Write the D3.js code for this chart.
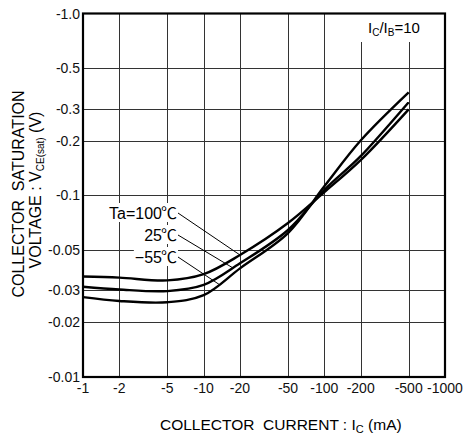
<!DOCTYPE html>
<html lang="en">
  <head>
    <meta charset="UTF-8" />
    <title>VCE(sat) vs IC – D3.js</title>
    <script src="https://d3js.org/d3.v7.min.js"></script>
    <style>
      body {
        margin: 0;
        background: white;
      }
      svg {
        display: block;
        font-family: 'Liberation Sans', Arial, sans-serif;
      }
      .tick-label {
        font-size: 14px;
        fill: #111;
      }
      .grid line {
        stroke: #333;
        stroke-width: 1;
      }
      .curve {
        fill: none;
        stroke: black;
        stroke-width: 2.4;
      }
    </style>
  </head>
  <body>
    <svg width="466" height="436"></svg>

    <script>
      // collector current magnitudes (mA) where values were read
      const currents = [1, 2, 5, 10, 20, 50, 100, 200, 500];
      // |VCE(sat)| in V for each temperature
      const vTa100 = [0.0357, 0.0352, 0.034, 0.0368, 0.0469, 0.0703, 0.104, 0.156, 0.297];
      const vTa25 = [0.0314, 0.0303, 0.0297, 0.0321, 0.0422, 0.0644, 0.107, 0.164, 0.325];
      const vTaM55 = [0.0275, 0.0262, 0.0258, 0.0282, 0.0396, 0.0619, 0.112, 0.2, 0.368];

      const xTicks = [1, 2, 5, 10, 20, 50, 100, 200, 500, 1000];
      const xTickLabels = ['-1', '-2', '-5', '-10', '-20', '-50', '-100', '-200', '-500', '-1000'];
      const yTicks = [0.01, 0.02, 0.03, 0.05, 0.1, 0.2, 0.3, 0.5, 1];
      const yTickLabels = ['-0.01', '-0.02', '-0.03', '-0.05', '-0.1', '-0.2', '-0.3', '-0.5', '-1.0'];

      const seriesNames = ['Ta=100', '25', '\u221255'];
      const pointerAt = [20, 17.5, 13.6]; // current where each label's leader meets its curve

      const plotLeft = 83,
        plotRight = 445,
        plotTop = 13.5,
        plotBottom = 377;

      const svg = d3.select('svg');

      const x = d3.scaleLog().domain([1, 1000]).range([plotLeft, plotRight]);
      const y = d3.scaleLog().domain([0.01, 1]).range([plotBottom, plotTop]);

      // grid
      const grid = svg.append('g').attr('class', 'grid');
      grid
        .selectAll('.vx')
        .data(xTicks.slice(1, -1))
        .join('line')
        .attr('x1', (d) => Math.round(x(d)) + 0.5)
        .attr('x2', (d) => Math.round(x(d)) + 0.5)
        .attr('y1', (d) => (d >= 200 ? 42 : plotTop))
        .attr('y2', plotBottom);
      grid
        .selectAll('.hy')
        .data(yTicks.slice(1, -1))
        .join('line')
        .attr('y1', (d) => Math.round(y(d)) + 0.5)
        .attr('y2', (d) => Math.round(y(d)) + 0.5)
        .attr('x1', plotLeft)
        .attr('x2', plotRight);

      // curves
      const line = d3
        .line()
        .x((d) => x(d[0]))
        .y((d) => y(d[1]))
        .curve(d3.curveCatmullRom.alpha(0.5));

      const series = [vTa100, vTa25, vTaM55].map((vals) =>
        currents.map((c, i) => [c, vals[i]]),
      );

      const paths = svg
        .append('g')
        .selectAll('path')
        .data(series)
        .join('path')
        .attr('class', 'curve')
        .attr('d', line);

      // find y on a path for a given x
      function yOnPath(node, px) {
        const len = node.getTotalLength();
        let lo = 0,
          hi = len;
        for (let k = 0; k < 40; k++) {
          const mid = (lo + hi) / 2;
          if (node.getPointAtLength(mid).x < px) lo = mid;
          else hi = mid;
        }
        return node.getPointAtLength(lo).y;
      }

      // temperature labels with leaders
      const labelY = [213, 235, 257];
      const labels = svg.append('g');
      paths.each(function (d, i) {
        const ex = x(pointerAt[i]);
        const ey = yOnPath(this, ex);
        const t = labels
          .append('text')
          .attr('x', 177)
          .attr('y', labelY[i] + 6)
          .attr('text-anchor', 'end')
          .style('font-size', '16px');
        t.append('tspan').text(seriesNames[i]);
        t.append('tspan')
          .style('font-family', "'Noto Sans CJK JP', sans-serif")
          .attr('dx', -1)
          .text('℃');
        const bb = t.node().getBBox();
        labels
          .insert('rect', 'text')
          .attr('x', bb.x - 1)
          .attr('y', bb.y + 3)
          .attr('width', bb.width + 2)
          .attr('height', bb.height - 5)
          .attr('fill', 'white');
        labels
          .append('line')
          .attr('x1', 178)
          .attr('y1', labelY[i])
          .attr('x2', ex)
          .attr('y2', ey)
          .attr('stroke', 'black')
          .attr('stroke-width', 1);
      });

      // frame
      svg
        .append('rect')
        .attr('x', plotLeft)
        .attr('y', plotTop)
        .attr('width', plotRight - plotLeft)
        .attr('height', plotBottom - plotTop)
        .attr('fill', 'none')
        .attr('stroke', 'black')
        .attr('stroke-width', 2.2);

      // tick labels
      svg
        .append('g')
        .selectAll('text')
        .data(xTicks)
        .join('text')
        .attr('class', 'tick-label')
        .attr('x', (d) => x(d))
        .attr('y', 393)
        .attr('text-anchor', 'middle')
        .text((d, i) => xTickLabels[i]);

      svg
        .append('g')
        .selectAll('text')
        .data(yTicks)
        .join('text')
        .attr('class', 'tick-label')
        .attr('x', 80)
        .attr('y', (d) => y(d) + 5)
        .attr('text-anchor', 'end')
        .text((d, i) => yTickLabels[i]);

      // x title
      const xt = svg
        .append('text')
        .attr('x', 160)
        .attr('y', 430)
        .style('font-size', '15.5px')
        .attr('xml:space', 'preserve');
      xt.append('tspan').text('COLLECTOR  CURRENT : I');
      xt.append('tspan').attr('dy', 3).style('font-size', '11px').text('C');
      xt.append('tspan').attr('dy', -3).text(' (mA)');

      // y title
      const yt = svg
        .append('g')
        .attr('transform', 'translate(0,194) rotate(-90)');
      yt.append('text')
        .attr('x', 0)
        .attr('y', 24)
        .attr('text-anchor', 'middle')
        .style('font-size', '16px')
        .attr('xml:space', 'preserve')
        .text('COLLECTOR  SATURATION');
      const yt2 = yt
        .append('text')
        .attr('x', 4)
        .attr('y', 41)
        .attr('text-anchor', 'middle')
        .style('font-size', '16px')
        .attr('xml:space', 'preserve');
      yt2.append('tspan').text('VOLTAGE : V');
      yt2.append('tspan').attr('dy', 3).style('font-size', '10px').text('CE(sat)');
      yt2.append('tspan').attr('dy', -3).text(' (V)');

      // IC/IB legend
      const lg = svg
        .append('text')
        .attr('x', 368)
        .attr('y', 33)
        .style('font-size', '15px');
      lg.append('tspan').text('I');
      lg.append('tspan').attr('dy', 3).style('font-size', '10px').text('C');
      lg.append('tspan').attr('dy', -3).text('/I');
      lg.append('tspan').attr('dy', 3).style('font-size', '10px').text('B');
      lg.append('tspan').attr('dy', -3).text('=10');
    </script>
  </body>
</html>
